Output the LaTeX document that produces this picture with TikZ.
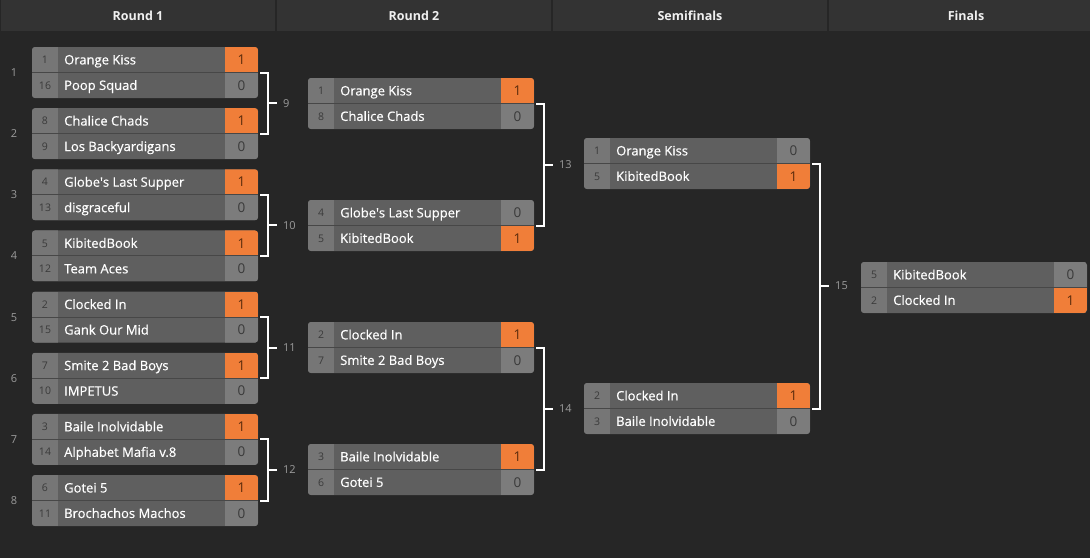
\documentclass[tikz,border=0pt]{standalone}
\usepackage{fontspec}
\setmainfont{Open Sans}
\newfontfamily\teamfont[FakeBold=0.45]{Open Sans}
\usetikzlibrary{calc}

\definecolor{pagebg}{HTML}{262626}
\definecolor{headbg}{HTML}{333333}
\definecolor{seedgray}{HTML}{767676}
\definecolor{namegray}{HTML}{5F5F5F}
\definecolor{scoregray}{HTML}{7C7C7C}
\definecolor{winorange}{HTML}{F07E39}
\definecolor{rowline}{HTML}{474747}
\definecolor{seedink}{HTML}{3A3A3A}
\definecolor{winink}{HTML}{5C2C0C}
\definecolor{noink}{HTML}{9B9B9B}

\tikzset{
  matchframe/.style={rectangle,anchor=north west,minimum width=226pt,minimum height=51pt,
    inner sep=0pt,outer sep=0pt,fill=namegray,rounded corners=3pt},
  seedtxt/.style={inner sep=0pt,text=seedink,font=\fontsize{10.5}{12}\selectfont,text height=7.6pt,text depth=0pt},
  teamtxt/.style={inner sep=0pt,anchor=west,text=white,font=\teamfont\fontsize{13}{15}\selectfont,text height=9.3pt,text depth=0pt},
  scoretxt/.style={inner sep=0pt,font=\fontsize{13.5}{15}\selectfont,text height=9.6pt,text depth=0pt},
  matchno/.style={inner sep=0pt,text=noink,font=\fontsize{11}{13}\selectfont,text height=7.9pt,text depth=0pt},
  headcell/.style={rectangle,fill=headbg,minimum width=274pt,minimum height=31pt,inner sep=0pt,
    text=white!94!black,font=\bfseries\fontsize{12.5}{15}\selectfont},
  bracket/.style={white,line width=2pt},
}

% #1 name, #2 top left, #3-#5 upper row, #6-#8 lower row
\newcommand{\matchbox}[8]{%
  \ifnum#5=1 \def\upcol{winorange}\def\upink{winink}\else\def\upcol{scoregray}\def\upink{seedink}\fi
  \ifnum#8=1 \def\lowcol{winorange}\def\lowink{winink}\else\def\lowcol{scoregray}\def\lowink{seedink}\fi
  \node[matchframe] (#1) at (#2) {};
  \begin{scope}
    \clip[rounded corners=3pt] (#1.north west) rectangle (#1.south east);
    \fill[seedgray] (#1.north west) rectangle ([xshift=26pt]#1.south west);
    \fill[\upcol] ([xshift=-33pt]#1.north east) rectangle (#1.east);
    \fill[\lowcol] ([xshift=-33pt]#1.east) rectangle (#1.south east);
    \draw[rowline,line width=1pt] (#1.west) -- (#1.east);
  \end{scope}
  \node[seedtxt] (#1sa) at ([xshift=13pt,yshift=12.75pt]#1.west) {#3};
  \node[teamtxt] (#1ta) at ([xshift=32pt,yshift=12.75pt]#1.west) {#4};
  \node[scoretxt,text=\upink] (#1pa) at ([xshift=-16.5pt,yshift=12.75pt]#1.east) {#5};
  \node[seedtxt] (#1sb) at ([xshift=13pt,yshift=-12.75pt]#1.west) {#6};
  \node[teamtxt] (#1tb) at ([xshift=32pt,yshift=-12.75pt]#1.west) {#7};
  \node[scoretxt,text=\lowink] (#1pb) at ([xshift=-16.5pt,yshift=-12.75pt]#1.east) {#8};
}

\begin{document}
\begin{tikzpicture}[x=1pt,y=-1pt]
  \fill[pagebg] (0,0) rectangle (1090,558);
  \useasboundingbox (0,0) rectangle (1090,558);

  % column headers
  \foreach \i/\t in {0/Round 1,1/Round 2,2/Semifinals,3/Finals}
    \node[headcell] (h\i) at ({276*\i+138},15.5) {\t};

  % round 1
  \foreach \i/\sa/\ta/\pa/\sb/\tb/\pb in {
      1/1/Orange Kiss/1/16/Poop Squad/0,
      2/8/Chalice Chads/1/9/Los Backyardigans/0,
      3/4/Globe\textquotesingle s Last Supper/1/13/disgraceful/0,
      4/5/KibitedBook/1/12/Team Aces/0,
      5/2/Clocked In/1/15/Gank Our Mid/0,
      6/7/Smite 2 Bad Boys/1/10/IMPETUS/0,
      7/3/Baile Inolvidable/1/14/Alphabet Mafia v.8/0,
      8/6/Gotei 5/1/11/Brochachos Machos/0}
  {
    \matchbox{m\i}{32,{47+61.15*(\i-1)}}{\sa}{\ta}{\pa}{\sb}{\tb}{\pb}
    \node[matchno] (n\i) at ([xshift=-18pt]m\i.west) {\i};
  }

  % round 2
  \matchbox{m9}{308,78}{1}{Orange Kiss}{1}{8}{Chalice Chads}{0}
  \matchbox{m10}{308,200}{4}{Globe\textquotesingle s Last Supper}{0}{5}{KibitedBook}{1}
  \matchbox{m11}{308,322}{2}{Clocked In}{1}{7}{Smite 2 Bad Boys}{0}
  \matchbox{m12}{308,444}{3}{Baile Inolvidable}{1}{6}{Gotei 5}{0}

  % semifinals and final
  \matchbox{m13}{584,138}{1}{Orange Kiss}{0}{5}{KibitedBook}{1}
  \matchbox{m14}{584,383}{2}{Clocked In}{1}{3}{Baile Inolvidable}{0}
  \matchbox{m15}{861,262}{5}{KibitedBook}{0}{2}{Clocked In}{1}

  % brackets
  \foreach \a/\b/\n in {m1/m2/9,m3/m4/10,m5/m6/11,m7/m8/12,m9/m10/13,m11/m12/14,m13/m14/15}
  {
    \path ($(\a.east)!0.5!(\b.east)$) ++(10,0) coordinate (j\n);
    \draw[bracket] ([xshift=2pt]\a.east) -| (j\n) |- ([xshift=2pt]\b.east);
    \draw[bracket] (j\n) -- ++(9,0) coordinate (s\n);
    \node[matchno,anchor=west] (l\n) at ([xshift=6pt]s\n) {\n};
  }
\end{tikzpicture}
\end{document}
